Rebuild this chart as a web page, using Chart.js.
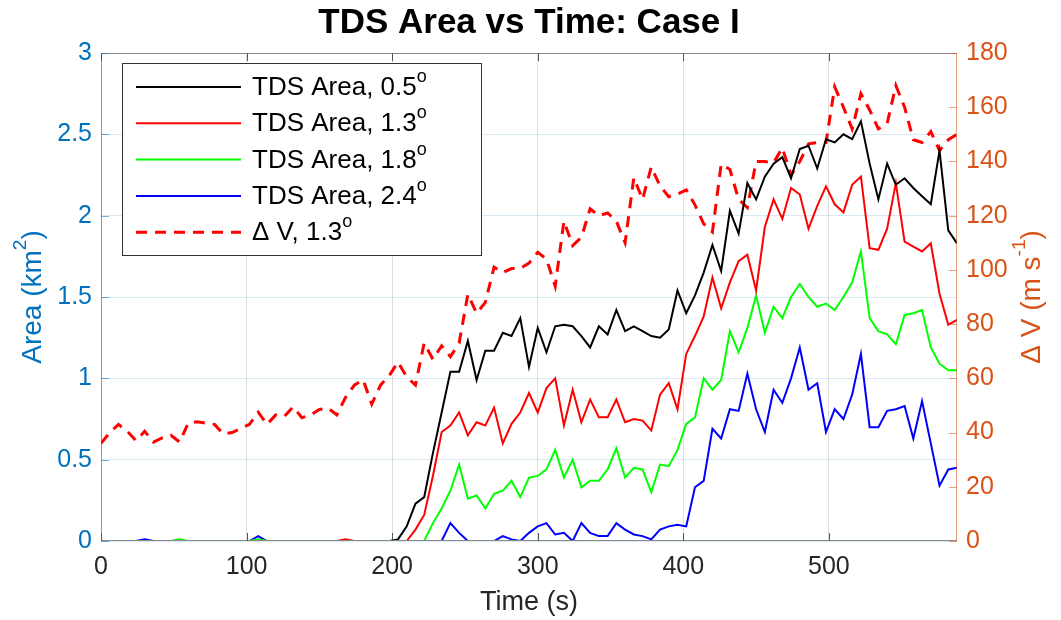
<!DOCTYPE html>
<html lang="en">
<head>
<meta charset="UTF-8">
<title>TDS Area vs Time: Case I</title>
<script src="https://cdn.jsdelivr.net/npm/chart.js"></script>
<style>
    html, body { margin: 0; padding: 0; background: #ffffff; }
    canvas { display: block; }
</style>
</head>
<body>
<canvas id="tdsChart" width="1061" height="620"></canvas>
<script>
// time axis (s), one frame every 6 s
const timeSec = [0,6,12,18,24,30,36,42,48,54,60,66,72,78,84,90,96,102,108,114,
    120,126,132,138,144,150,156,162,168,174,180,186,192,198,204,210,216,222,228,234,
    240,246,252,258,264,270,276,282,288,294,300,306,312,318,324,330,336,342,348,354,
    360,366,372,378,384,390,396,402,408,414,420,426,432,438,444,450,456,462,468,474,
    480,486,492,498,504,510,516,522,528,534,540,546,552,558,564,570,576,582,588];

// TDS area (km^2) for each elevation angle
const area05 = [0,0,0,0,0,0,0,0,0,0, 0,0,0,0,0,0,0,0,0,0, 0,0,0,0,0,0,0,0,0,0, 0,0,0,0,
    0.01,0.09,0.23,0.27,0.54,0.79,1.04,1.04,1.23,0.99,1.17,1.17,1.28,1.26,1.37,1.07,
    1.31,1.16,1.32,1.33,1.32,1.26,1.19,1.32,1.27,1.42,1.29,1.32,1.29,1.26,1.25,1.30,
    1.54,1.40,1.51,1.65,1.82,1.66,2.03,1.89,2.20,2.10,2.24,2.32,2.36,2.23,2.41,2.43,
    2.29,2.47,2.45,2.50,2.47,2.58,2.32,2.10,2.32,2.19,2.23,2.17,2.12,2.07,2.40,1.91,1.83];

const area13 = [0,0,0,0,0,0,0,0,0,0, 0,0,0,0,0,0,0,0,0,0, 0,0,0,0,0,0,0,0,0.01,0, 0,0,0,0,0,0,
    0.07,0.16,0.40,0.67,0.71,0.79,0.65,0.73,0.71,0.82,0.60,0.72,0.79,0.91,0.79,0.94,
    1.00,0.71,0.93,0.73,0.87,0.76,0.76,0.87,0.73,0.75,0.74,0.68,0.90,0.97,0.81,1.15,
    1.26,1.38,1.62,1.43,1.59,1.72,1.76,1.54,1.93,2.10,1.98,2.17,2.13,1.92,2.06,2.18,
    2.07,2.02,2.19,2.24,1.80,1.79,1.92,2.20,1.84,1.81,1.78,1.83,1.52,1.33,1.36];

const area18 = [0,0,0,0,0,0,0,0,0,0.01, 0,0,0,0,0,0,0,0,0.01,0, 0,0,0,0,0,0,0,0,0,0,
    0,0,0,0,0,0,0,0,
    0.11,0.20,0.31,0.47,0.26,0.28,0.20,0.29,0.31,0.37,0.27,0.39,0.40,0.44,0.56,0.39,
    0.50,0.33,0.37,0.37,0.44,0.57,0.39,0.45,0.44,0.30,0.47,0.46,0.56,0.72,0.76,1.00,
    0.93,0.99,1.29,1.16,1.31,1.51,1.28,1.44,1.37,1.50,1.58,1.50,1.44,1.46,1.42,1.50,
    1.59,1.78,1.37,1.29,1.27,1.21,1.39,1.40,1.42,1.19,1.09,1.05,1.05];

const area24 = [0,0,0,0,0,0.01,0,0,0,0, 0,0,0,0,0,0,0,0,0.03,0, 0,0,0,0,0,0,0,0,0,0,
    0,0,0,0,0,0,0,0,0,0,
    0.11,0.05,0,0,0,0,0.03,0.01,0,0.05,0.09,0.11,0.04,0.05,0,0.11,0.05,0.03,0.03,0.11,
    0.07,0.04,0.03,0.01,0.07,0.09,0.10,0.09,0.33,0.37,0.69,0.63,0.81,0.80,1.03,0.81,
    0.67,0.93,0.85,1.00,1.19,0.93,0.97,0.67,0.81,0.75,0.90,1.15,0.70,0.70,0.80,0.81,
    0.83,0.63,0.86,0.60,0.34,0.44,0.45];

// Delta V (m/s) at 1.3 deg
const dv13 = [36,40,43,40.5,37,40.5,36.5,38,39,36.5, 43.5,44,43.5,43,39.5,40,41.5,43,47.5,43,
    46.5,46,49.5,45.5,46.5,48.5,49,46.5,53,57.5, 59.5,50.5,57.5,61,66,60.5,57.5,73,
    67,72,68,73,91,84,88,101,99,100.5,100.5,102.5,106.5,104,94,118,109,112,122.5,120,121,118,110,134,126,
    138,131,127,128,129.5,124,117,114,139,137,126,123,140,140,139.5,145,135,140,146.5,147,147,
    167.5,160,152,165,159,152,154,168,160,148,147,151,144,148,150];

const xTicks = [0, 100, 200, 300, 400, 500];
const areaTicks = [0, 0.5, 1, 1.5, 2, 2.5, 3];
const dvTicks = [0, 20, 40, 60, 80, 100, 120, 140, 160, 180];

const FONT = '"Liberation Sans", Arial, Helvetica, sans-serif';
const BLUE = '#0072BD';
const ORANGE = '#D95319';

function pts(arr) {
    return timeSec.map((t, i) => ({ x: t, y: arr[i] }));
}

// draws text with superscript parts, centred or left aligned, baseline middle
function drawRich(ctx, parts, x, y, size, weight, color, align) {
    const sup = Math.round(size * 0.68);
    let w = 0;
    parts.forEach(p => {
        ctx.font = weight + ' ' + (p.sup ? sup : size) + 'px ' + FONT;
        p.w = ctx.measureText(p.t).width;
        w += p.w;
    });
    let cx = align === 'center' ? x - w / 2 : x;
    ctx.fillStyle = color;
    ctx.textAlign = 'left';
    ctx.textBaseline = 'middle';
    parts.forEach(p => {
        ctx.font = weight + ' ' + (p.sup ? sup : size) + 'px ' + FONT;
        ctx.fillText(p.t, cx, p.sup ? y - size * 0.42 : y);
        cx += p.w;
    });
}

const legendItems = [
    { label: 'TDS Area, 0.5', color: '#000000', dash: [] },
    { label: 'TDS Area, 1.3', color: '#ff0000', dash: [] },
    { label: 'TDS Area, 1.8', color: '#00ff00', dash: [] },
    { label: 'TDS Area, 2.4', color: '#0000ff', dash: [] },
    { label: '\u0394 V, 1.3', color: '#ff0000', dash: [11, 8] }
];

const decor = {
    id: 'decor',
    afterDraw(chart) {
        const ctx = chart.ctx;
        const a = chart.chartArea;
        const sx = chart.scales.x, sy = chart.scales.y, sy1 = chart.scales.y1;
        ctx.save();

        // box
        ctx.lineWidth = 1;
        ctx.strokeStyle = '#8a8a8a';
        ctx.beginPath();
        ctx.moveTo(a.left, a.top + 0.5); ctx.lineTo(a.right, a.top + 0.5);
        ctx.moveTo(a.left, a.bottom - 0.5); ctx.lineTo(a.right, a.bottom - 0.5);
        ctx.stroke();
        // inward x ticks
        ctx.strokeStyle = '#555555';
        ctx.beginPath();
        xTicks.forEach(v => {
            const px = Math.round(sx.getPixelForValue(v)) + 0.5;
            ctx.moveTo(px, a.bottom); ctx.lineTo(px, a.bottom - 8);
            ctx.moveTo(px, a.top); ctx.lineTo(px, a.top + 8);
        });
        ctx.stroke();
        // left axis
        ctx.strokeStyle = 'rgba(0,114,189,0.55)';
        ctx.beginPath();
        ctx.moveTo(a.left + 0.5, a.top); ctx.lineTo(a.left + 0.5, a.bottom);
        areaTicks.forEach(v => {
            const py = Math.round(sy.getPixelForValue(v)) + 0.5;
            ctx.moveTo(a.left, py); ctx.lineTo(a.left + 8, py);
        });
        ctx.stroke();
        // right axis
        ctx.strokeStyle = 'rgba(217,83,25,0.55)';
        ctx.beginPath();
        ctx.moveTo(a.right - 0.5, a.top); ctx.lineTo(a.right - 0.5, a.bottom);
        dvTicks.forEach(v => {
            const py = Math.round(sy1.getPixelForValue(v)) + 0.5;
            ctx.moveTo(a.right, py); ctx.lineTo(a.right - 8, py);
        });
        ctx.stroke();

        // legend
        const lx = 122, ly = 63, lw = 359, lh = 192;
        ctx.fillStyle = '#ffffff';
        ctx.fillRect(lx, ly, lw, lh);
        ctx.strokeStyle = '#333333';
        ctx.lineWidth = 1;
        ctx.strokeRect(lx + 0.5, ly + 0.5, lw, lh);
        legendItems.forEach((it, i) => {
            const y = 87 + i * 36.3;
            ctx.strokeStyle = it.color;
            ctx.lineWidth = it.dash.length ? 3 : 2;
            ctx.setLineDash(it.dash);
            ctx.beginPath();
            ctx.moveTo(136, y); ctx.lineTo(241, y);
            ctx.stroke();
            ctx.setLineDash([]);
            drawRich(ctx, [{ t: it.label }, { t: 'o', sup: true }], 252, y + 1, 26, 'normal', '#000000', 'left');
        });

        // titles
        drawRich(ctx, [{ t: 'TDS Area vs Time: Case I' }], (a.left + a.right) / 2, 23, 35, 'bold', '#000000', 'center');
        drawRich(ctx, [{ t: 'Time (s)' }], (a.left + a.right) / 2, 603, 27, 'normal', '#262626', 'center');

        ctx.save();
        ctx.translate(33, (a.top + a.bottom) / 2);
        ctx.rotate(-Math.PI / 2);
        drawRich(ctx, [{ t: 'Area (km' }, { t: '2', sup: true }, { t: ')' }], 0, 0, 28, 'normal', BLUE, 'center');
        ctx.restore();

        ctx.save();
        ctx.translate(1032, (a.top + a.bottom) / 2);
        ctx.rotate(-Math.PI / 2);
        drawRich(ctx, [{ t: '\u0394 V (m s' }, { t: '-1', sup: true }, { t: ')' }], 0, 0, 28, 'normal', ORANGE, 'center');
        ctx.restore();

        ctx.restore();
    }
};

const ctx = document.getElementById('tdsChart').getContext('2d');
const chart = new Chart(ctx, {
    type: 'line',
    data: {
        datasets: [
            { label: 'TDS Area, 0.5', data: pts(area05), borderColor: '#000000', borderWidth: 2, yAxisID: 'y' },
            { label: 'TDS Area, 1.3', data: pts(area13), borderColor: '#ff0000', borderWidth: 2, yAxisID: 'y' },
            { label: 'TDS Area, 1.8', data: pts(area18), borderColor: '#00ff00', borderWidth: 2, yAxisID: 'y' },
            { label: 'TDS Area, 2.4', data: pts(area24), borderColor: '#0000ff', borderWidth: 2, yAxisID: 'y' },
            { label: 'Delta V, 1.3', data: pts(dv13), borderColor: '#ff0000', borderWidth: 3,
              borderDash: [11, 8], yAxisID: 'y1' }
        ]
    },
    options: {
        responsive: false,
        animation: false,
        parsing: false,
        elements: {
            point: { radius: 0 },
            line: { tension: 0, fill: false }
        },
        layout: { padding: { top: 53, left: 0, right: 0, bottom: 0 } },
        plugins: {
            legend: { display: false },
            title: { display: false },
            tooltip: { enabled: false }
        },
        scales: {
            x: {
                type: 'linear',
                min: 0,
                max: 588,
                afterBuildTicks: s => { s.ticks = xTicks.map(v => ({ value: v })); },
                afterFit: s => { s.height = 79; },
                border: { display: false },
                grid: { color: 'rgba(38,38,38,0.15)', drawTicks: false },
                ticks: { padding: 11, color: '#262626', font: { family: FONT, size: 25 },
                         callback: v => String(v) }
            },
            y: {
                position: 'left',
                min: 0,
                max: 3,
                afterBuildTicks: s => { s.ticks = areaTicks.map(v => ({ value: v })); },
                afterFit: s => { s.width = 101; },
                border: { display: false },
                grid: { color: 'rgba(0,114,189,0.15)', drawTicks: false },
                ticks: { padding: 9, color: BLUE, font: { family: FONT, size: 25 },
                         callback: v => String(v) }
            },
            y1: {
                position: 'right',
                min: 0,
                max: 180,
                afterBuildTicks: s => { s.ticks = dvTicks.map(v => ({ value: v })); },
                afterFit: s => { s.width = 104; },
                border: { display: false },
                grid: { display: false, drawTicks: false },
                ticks: { padding: 9, color: ORANGE, font: { family: FONT, size: 25 },
                         callback: v => String(v) }
            }
        }
    },
    plugins: [decor]
});
</script>
</body>
</html>
